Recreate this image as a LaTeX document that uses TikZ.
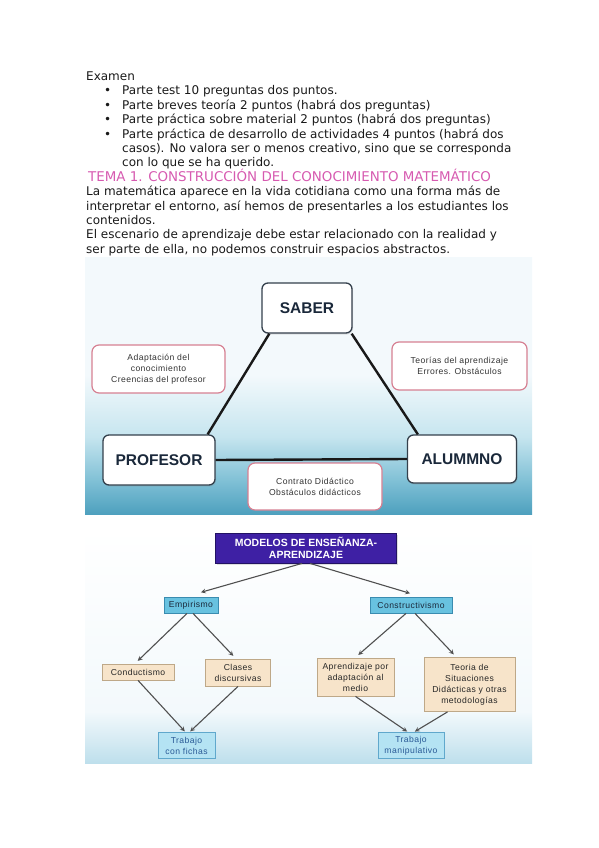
\documentclass[tikz,border=0pt]{standalone}
\usepackage{fontspec}
\setmainfont{DejaVu Sans}
\newfontfamily\arialfont{Liberation Sans}
\newfontfamily\arialwide[LetterSpace=5]{Liberation Sans}
\usetikzlibrary{shadows}

\definecolor{bodyblack}{RGB}{25,25,25}
\definecolor{temapink}{RGB}{214,90,176}
\definecolor{tealdark}{RGB}{78,160,190}
\definecolor{tealmid}{RGB}{124,190,212}
\definecolor{tealpale}{RGB}{198,229,239}
\definecolor{skywhite}{RGB}{243,249,252}
\definecolor{skyblue}{RGB}{190,223,236}
\definecolor{boxline}{RGB}{52,64,76}
\definecolor{labelnavy}{RGB}{26,40,58}
\definecolor{rosepink}{RGB}{214,128,146}
\definecolor{indigo}{RGB}{62,32,164}
\definecolor{indigodark}{RGB}{34,18,100}
\definecolor{empblue}{RGB}{104,194,224}
\definecolor{empline}{RGB}{58,140,176}
\definecolor{beige}{RGB}{247,228,202}
\definecolor{beigeline}{RGB}{190,168,136}
\definecolor{workblue}{RGB}{180,227,243}
\definecolor{workline}{RGB}{96,168,204}
\definecolor{worktext}{RGB}{42,90,150}
\definecolor{arrowgray}{RGB}{80,80,80}

% the path is fitted to the band 25bp--75bp of a shading
\pgfdeclareverticalshading{trishade}{100bp}{color(0bp)=(tealdark); color(25bp)=(tealdark); color(31bp)=(tealmid); color(40bp)=(tealpale); color(52bp)=(skywhite); color(100bp)=(skywhite)}
\pgfdeclareverticalshading{skyshade}{100bp}{color(0bp)=(skyblue); color(25bp)=(skyblue); color(36bp)=(skywhite); color(75bp)=(white); color(100bp)=(white)}

\begin{document}
\begin{tikzpicture}[
    x = 1pt,
    y = -1pt,
    >=stealth,
    textline/.style = {anchor=base west, inner sep=0pt, text=bodyblack,
              font=\fontsize{12}{14.4}\selectfont},
    bigbox/.style = {rectangle, rounded corners=6pt, draw=boxline, line width=1.3pt,
              fill=white, text=labelnavy, inner sep=0pt,
              font=\arialfont\bfseries\fontsize{15.5}{18}\selectfont,
              drop shadow={opacity=0.2, shadow xshift=1pt, shadow yshift=-1.5pt}},
    notebox/.style = {rectangle, rounded corners=7pt, draw=rosepink, line width=1.2pt,
              fill=white, text=black!80, inner sep=0pt, align=center,
              font=\arialwide\fontsize{8.6}{11}\selectfont},
    edge/.style = {draw=black!90, line width=2.4pt},
    modelbox/.style = {rectangle, draw=indigodark, line width=0.8pt, fill=indigo,
              text=white, inner sep=0pt, align=center,
              font=\arialfont\bfseries\fontsize{10.5}{12}\selectfont,
              drop shadow={opacity=0.25, shadow xshift=1.5pt, shadow yshift=-1.5pt}},
    schoolbox/.style = {rectangle, draw=empline, line width=0.8pt, fill=empblue,
              text=labelnavy, inner sep=0pt, align=center,
              font=\arialwide\fontsize{8.6}{10}\selectfont},
    methodbox/.style = {rectangle, draw=beigeline, line width=0.8pt, fill=beige,
              text=black!85, inner sep=0pt, align=center,
              font=\arialwide\fontsize{8.6}{11}\selectfont},
    workbox/.style = {rectangle, draw=workline, line width=0.8pt, fill=workblue,
              text=worktext, inner sep=0pt, align=center,
              font=\arialwide\fontsize{8.6}{11}\selectfont},
    arrow/.style = {->, draw=arrowgray, line width=1.1pt, shorten >=1pt},
    ]
\useasboundingbox (0,0) rectangle (599,848);

% text above the figures
\node[textline] (examen) at (86,80.5) {Examen};
\node[textline] (dot_1) at (104,94.9) {•};
\node[textline] (dot_2) at (104,109.3) {•};
\node[textline] (dot_3) at (104,123.7) {•};
\node[textline] (dot_4) at (104,138.1) {•};
\node[textline] (item_1) at (122,94.9) {Parte test 10 preguntas dos puntos.};
\node[textline] (item_2) at (122,109.3) {Parte breves teoría 2 puntos (habrá dos preguntas)};
\node[textline] (item_3) at (122,123.7) {Parte práctica sobre material 2 puntos (habrá dos preguntas)};
\node[textline] (item_4a) at (122,138.1) {Parte práctica de desarrollo de actividades 4 puntos (habrá dos};
\node[textline] (item_4b) at (122,152.5) {casos). No valora ser o menos creativo, sino que se corresponda};
\node[textline] (item_4c) at (122,166.9) {con lo que se ha querido.};
\node[textline, text=temapink, font=\fontsize{13.4}{15}\selectfont] (tema) at (88,181.3)
    {TEMA 1. CONSTRUCCIÓN DEL CONOCIMIENTO MATEMÁTICO};
\node[textline] (para_1) at (86,195.7) {La matemática aparece en la vida cotidiana como una forma más de};
\node[textline] (para_2) at (86,210.1) {interpretar el entorno, así hemos de presentarles a los estudiantes los};
\node[textline] (para_3) at (86,224.5) {contenidos.};
\node[textline] (para_4) at (86,238.9) {El escenario de aprendizaje debe estar relacionado con la realidad y};
\node[textline] (para_5) at (86,253.3) {ser parte de ella, no podemos construir espacios abstractos.};

% didactic triangle
\fill[shading=trishade] (85,257) rectangle (532,514);

\node[bigbox, minimum width=90pt, minimum height=50pt] (saber) at (307,308) {SABER};
\node[bigbox, minimum width=112pt, minimum height=50pt] (profesor) at (159,460) {PROFESOR};
\node[bigbox, minimum width=109pt, minimum height=48pt] (alumno) at (462,459) {ALUMMNO};

\draw[edge] ([xshift=8pt]saber.south west) -- ([xshift=-8pt]profesor.north east);
\draw[edge] ([xshift=-1pt]saber.south east) -- ([xshift=11pt]alumno.north west);
\draw[edge] (profesor.east) -- (alumno.west);

\node[notebox, minimum width=133pt, minimum height=48pt] (adaptacion) at (158.5,369)
    {Adaptación del\\conocimiento\\Creencias del profesor};
\node[notebox, minimum width=135pt, minimum height=48pt] (teorias) at (459.5,366)
    {Teorías del aprendizaje\\Errores. Obstáculos};
\node[notebox, minimum width=134pt, minimum height=47pt] (contrato) at (315,486.5)
    {Contrato Didáctico\\Obstáculos didácticos};

% teaching models
\fill[shading=skyshade] (85,529) rectangle (532,763);

\node[modelbox, minimum width=181pt, minimum height=30pt] (modelos) at (306,548)
    {MODELOS DE ENSEÑANZA-\\APRENDIZAJE};
\node[schoolbox, minimum width=54pt, minimum height=16pt] (empirismo) at (191,605) {Empirismo};
\node[schoolbox, minimum width=82pt, minimum height=16pt] (constructivismo) at (411,605) {Constructivismo};
\node[methodbox, minimum width=72pt, minimum height=16pt] (conductismo) at (138,672) {Conductismo};
\node[methodbox, minimum width=65pt, minimum height=27pt] (clases) at (238,672.5) {Clases\\discursivas};
\node[methodbox, minimum width=77pt, minimum height=38pt] (aprendizaje) at (355.5,677)
    {Aprendizaje por\\adaptación al\\medio};
\node[methodbox, minimum width=91pt, minimum height=54pt] (teoria) at (469.5,684.5)
    {Teoria de\\Situaciones\\Didácticas y otras\\metodologías};
\node[workbox, minimum width=57pt, minimum height=26pt] (fichas) at (186.5,745.5) {Trabajo\\con fichas};
\node[workbox, minimum width=66pt, minimum height=26pt] (manipulativo) at (411,745.5) {Trabajo\\manipulativo};

\draw[arrow] ([xshift=-4pt]modelos.south) -- ([xshift=9pt,yshift=4pt]empirismo.north);
\draw[arrow] ([xshift=4pt]modelos.south) -- ([yshift=3pt]constructivismo.north);
\draw[arrow] ([xshift=-4pt]empirismo.south) -- ([xshift=-1pt,yshift=2pt]conductismo.north);
\draw[arrow] ([xshift=2pt]empirismo.south) -- ([xshift=-4pt,yshift=2pt]clases.north);
\draw[arrow] ([xshift=-5pt]constructivismo.south) -- ([xshift=2pt,yshift=2pt]aprendizaje.north);
\draw[arrow] ([xshift=4pt]constructivismo.south) -- ([xshift=-15pt,yshift=2pt]teoria.north);
\draw[arrow] (conductismo.south) -- ([xshift=-1pt]fichas.north);
\draw[arrow] (clases.south) -- ([xshift=3pt]fichas.north);
\draw[arrow] (aprendizaje.south) -- ([xshift=-3pt]manipulativo.north);
\draw[arrow] ([xshift=-22pt]teoria.south) -- ([xshift=3pt]manipulativo.north);

\end{tikzpicture}
\end{document}
